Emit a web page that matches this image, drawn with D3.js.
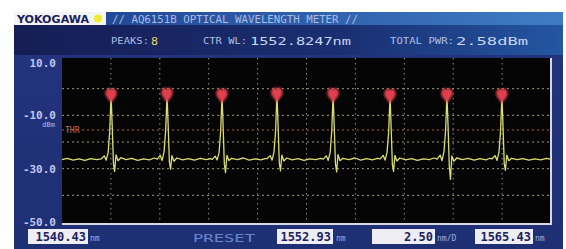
<!DOCTYPE html>
<html><head><meta charset="utf-8">
<script src="https://cdn.jsdelivr.net/npm/d3@7"></script>
<style>html,body{margin:0;padding:0;background:#fff;}svg{display:block;}</style>
</head><body>
<script>
// ---- data ----
const xDomain = [1540.43, 1565.43];
const yDomain = [10, -50];
const yTickValues = [10, -10, -30, -50];
const yTickLabels = ["10.0", "-10.0", "-30.0", "-50.0"];
const yGridValues = [0, -10, -20, -30, -40];
const xGridValues = [1542.93, 1545.43, 1547.93, 1550.43, 1552.93, 1555.43, 1557.93, 1560.43, 1562.93];
const thresholdDbm = -15.5;
const peakNm  = [1542.94, 1545.80, 1548.61, 1551.42, 1554.29, 1557.20, 1560.11, 1562.92];
const peakDbm = [-2.5, -2.3, -2.6, -2.2, -2.4, -2.7, -2.5, -2.6];
const headerTitle = "// AQ6151B OPTICAL WAVELENGTH METER //";
const peaksCount = "8";
const ctrWl = "1552.8247nm";
const totalPwr = "2.58dBm";
const bottomLabels = {start: "1540.43", center: "1552.93", span: "2.50", stop: "1565.43"};
const trace = [
 [1540.43,-26.6],[1540.7,-26.1],[1541.0,-26.8],[1541.3,-26.3],[1541.6,-26.9],[1541.9,-26.2],[1542.2,-26.6],
 [1542.44,-26.3],[1542.59,-25.2],[1542.69,-26.8],[1542.79,-23.9],[1542.87,-16],[1542.91,-8],[1542.94,-2.5],[1542.97,-8.5],[1543.01,-17],[1543.06,-28],[1543.12,-31],[1543.19,-24.8],[1543.29,-27.0],[1543.44,-25.9],
 [1543.7,-26.6],[1544.0,-26.1],[1544.3,-26.9],[1544.6,-26.3],[1544.9,-26.7],[1545.15,-26.0],
 [1545.30,-26.4],[1545.45,-25.0],[1545.55,-26.9],[1545.65,-23.6],[1545.73,-15.5],[1545.77,-8],[1545.80,-2.3],[1545.83,-8.2],[1545.87,-16.5],[1545.92,-27.5],[1545.98,-30.2],[1546.05,-25.1],[1546.15,-27.2],[1546.30,-26.0],
 [1546.6,-26.7],[1546.9,-26.2],[1547.2,-26.8],[1547.5,-26.1],[1547.8,-26.6],[1548.0,-26.2],
 [1548.11,-26.5],[1548.26,-25.3],[1548.36,-26.7],[1548.46,-24.0],[1548.54,-16.2],[1548.58,-8.4],[1548.61,-2.6],[1548.64,-8.3],[1548.68,-17.2],[1548.73,-28.3],[1548.79,-31.5],[1548.86,-25.0],[1548.96,-26.9],[1549.11,-26.1],
 [1549.4,-26.6],[1549.7,-26.0],[1550.0,-26.8],[1550.3,-26.3],[1550.6,-26.7],[1550.8,-26.2],
 [1550.92,-26.2],[1551.07,-25.1],[1551.17,-26.8],[1551.27,-23.7],[1551.35,-15.8],[1551.39,-7.9],[1551.42,-2.2],[1551.45,-8.1],[1551.49,-16.8],[1551.54,-27.8],[1551.60,-30.8],[1551.67,-24.9],[1551.77,-27.1],[1551.92,-26.0],
 [1552.2,-26.7],[1552.5,-26.2],[1552.8,-26.9],[1553.1,-26.3],[1553.4,-26.6],[1553.65,-26.1],
 [1553.79,-26.4],[1553.94,-25.2],[1554.04,-26.9],[1554.14,-23.9],[1554.22,-16.0],[1554.26,-8.2],[1554.29,-2.4],[1554.32,-8.4],[1554.36,-17.0],[1554.41,-28.1],[1554.47,-31.2],[1554.54,-24.7],[1554.64,-27.0],[1554.79,-26.1],
 [1555.1,-26.6],[1555.4,-26.0],[1555.7,-26.8],[1556.0,-26.2],[1556.3,-26.7],[1556.55,-26.1],
 [1556.70,-26.3],[1556.85,-25.0],[1556.95,-26.8],[1557.05,-23.8],[1557.13,-16.3],[1557.17,-8.6],[1557.20,-2.7],[1557.23,-8.7],[1557.27,-17.4],[1557.32,-28.4],[1557.38,-31.0],[1557.45,-25.0],[1557.55,-27.1],[1557.70,-26.0],
 [1558.0,-26.7],[1558.3,-26.2],[1558.6,-26.9],[1558.9,-26.3],[1559.2,-26.6],[1559.45,-26.0],
 [1559.61,-26.4],[1559.76,-24.9],[1559.86,-27.0],[1559.96,-23.5],[1560.04,-15.9],[1560.08,-8.1],[1560.11,-2.5],[1560.14,-8.3],[1560.18,-16.9],[1560.23,-29.0],[1560.29,-34.0],[1560.36,-25.2],[1560.46,-27.2],[1560.61,-26.0],
 [1560.9,-26.6],[1561.2,-26.1],[1561.5,-26.8],[1561.8,-26.2],[1562.1,-26.7],[1562.3,-26.1],
 [1562.42,-26.3],[1562.57,-25.1],[1562.67,-26.9],[1562.77,-23.8],[1562.85,-16.1],[1562.89,-8.3],[1562.92,-2.6],[1562.95,-8.5],[1562.99,-17.1],[1563.04,-28.2],[1563.10,-30.6],[1563.17,-24.9],[1563.27,-27.0],[1563.42,-26.1],
 [1563.7,-26.6],[1564.0,-26.2],[1564.3,-26.8],[1564.6,-26.3],[1564.9,-26.7],[1565.2,-26.1],[1565.43,-26.5]
];

// ---- drawing ----
const W = 566, H = 249;
const svg = d3.select("body").append("svg").attr("width", W).attr("height", H);
const defs = svg.append("defs");
const g1 = defs.append("linearGradient").attr("id","hdr1").attr("x1","0").attr("x2","1");
g1.append("stop").attr("offset","0").attr("stop-color","#1d3f8f");
g1.append("stop").attr("offset","1").attr("stop-color","#3f7cc4");
const g2 = defs.append("linearGradient").attr("id","hdr2").attr("x1","0").attr("x2","1");
g2.append("stop").attr("offset","0").attr("stop-color","#161d55");
g2.append("stop").attr("offset","0.6").attr("stop-color","#1a2f72");
g2.append("stop").attr("offset","1").attr("stop-color","#2456a2");
const g3 = defs.append("linearGradient").attr("id","body").attr("x1","0").attr("x2","0").attr("y1","0").attr("y2","1");
g3.append("stop").attr("offset","0").attr("stop-color","#24347e");
g3.append("stop").attr("offset","1").attr("stop-color","#1f2f74");
const blur = defs.append("filter").attr("id","glow").attr("x","-50%").attr("y","-50%").attr("width","200%").attr("height","200%");
blur.append("feGaussianBlur").attr("stdDeviation","0.8");

// panel
svg.append("rect").attr("x",14).attr("y",12).attr("width",549).attr("height",237).attr("fill","url(#body)");
svg.append("rect").attr("x",14).attr("y",12).attr("width",549).attr("height",13).attr("fill","url(#hdr1)");
svg.append("rect").attr("x",14).attr("y",25).attr("width",549).attr("height",30).attr("fill","url(#hdr2)");

// header
svg.append("rect").attr("x",14).attr("y",12).attr("width",92).attr("height",13).attr("fill","#f4f4f4");
svg.append("text").attr("x",17).attr("y",22.5).text("YOKOGAWA")
  .attr("font-family","DejaVu Sans").attr("font-weight","bold").attr("font-size",10)
  .attr("textLength",72).attr("lengthAdjust","spacingAndGlyphs").attr("fill","#1a1f5a");
svg.append("circle").attr("cx",98).attr("cy",18.5).attr("r",4).attr("fill","#f0ea30");
svg.append("text").attr("x",112).attr("y",23).text(headerTitle)
  .attr("font-family","DejaVu Sans Mono").attr("font-size",11)
  .attr("textLength",246).attr("lengthAdjust","spacingAndGlyphs").attr("fill","#a9bde6");

const small = {ff:"DejaVu Sans Mono", fill:"#aebfe4"};
function txt(x,y,s,size,len,fill,weight){
  const t = svg.append("text").attr("x",x).attr("y",y).text(s)
    .attr("font-family","DejaVu Sans Mono").attr("font-size",size).attr("fill",fill||small.fill);
  if(len) t.attr("textLength",len).attr("lengthAdjust","spacingAndGlyphs");
  if(weight) t.attr("font-weight",weight);
  return t;
}
txt(111,44,"PEAKS:",8,38);
txt(151,45,peaksCount,11,7,"#e2d85a");
txt(203,44,"CTR WL:",8,44);
txt(250,45,ctrWl,11,101,"#c9d6f0");
txt(390,44,"TOTAL PWR:",8,64);
txt(456,45,totalPwr,11,72,"#c9d6f0");

// plot area
const x = d3.scaleLinear().domain(xDomain).range([62, 551]);
const y = d3.scaleLinear().domain(yDomain).range([62, 222]);
svg.append("rect").attr("x",62).attr("y",58).attr("width",489).attr("height",166).attr("fill","#050505");

const gridG = svg.append("g");
gridG.selectAll(".vg").data(xGridValues).join("line")
  .attr("x1",d=>x(d)).attr("x2",d=>x(d)).attr("y1",58).attr("y2",224)
  .attr("stroke","#8e8e8e").attr("stroke-width",1).attr("stroke-dasharray","1.5,3.5");
gridG.selectAll(".hg").data(yGridValues).join("line")
  .attr("x1",62).attr("x2",551).attr("y1",d=>y(d)).attr("y2",d=>y(d))
  .attr("stroke","#a09c78").attr("stroke-width",1).attr("stroke-dasharray","2,3");
// threshold
gridG.append("line").attr("x1",62).attr("x2",551).attr("y1",y(thresholdDbm)).attr("y2",y(thresholdDbm))
  .attr("stroke","#b5604a").attr("stroke-width",1).attr("stroke-dasharray","2,3");
svg.append("text").attr("x",65).attr("y",y(thresholdDbm)+3).text("THR")
  .attr("font-family","DejaVu Sans Mono").attr("font-size",8).attr("fill","#c86a4a");

// frame
svg.append("line").attr("x1",62).attr("x2",552).attr("y1",224).attr("y2",224).attr("stroke","#d8d8e4").attr("stroke-width",2);
svg.append("line").attr("x1",551).attr("x2",551).attr("y1",58).attr("y2",225).attr("stroke","#d8d8e4").attr("stroke-width",2);

// trace
const line = d3.line().x(d=>x(d[0])).y(d=>y(d[1]));
svg.append("path").datum(trace).attr("d",line).attr("fill","none")
  .attr("stroke","#d9dd72").attr("stroke-width",1.3).attr("stroke-linejoin","round");

// markers
const peaks = peakNm.map((n,i)=>({n, v:peakDbm[i]}));
const mk = svg.append("g").attr("filter","url(#glow)");
mk.selectAll("path").data(peaks).join("path")
  .attr("transform",d=>`translate(${x(d.n)},${y(d.v)})`)
  .attr("d","M0,8 L-5,1 C-7,-2 -5,-7 -2,-7 C-1,-7 0,-6 0,-5 C0,-6 1,-7 2,-7 C5,-7 7,-2 5,1 Z")
  .attr("fill","#e0404e");

// y labels
const yl = svg.append("g");
yl.selectAll("text").data(yTickValues).join("text")
  .attr("x",56).attr("y",d=>Math.max(y(d),63)+4).attr("text-anchor","end")
  .text((d,i)=>yTickLabels[i])
  .attr("font-family","DejaVu Sans Mono").attr("font-weight","bold").attr("font-size",11)
  .attr("fill","#c3c6ee");
svg.append("text").attr("x",55).attr("y",y(-10)+12).attr("text-anchor","end").text("dBm")
  .attr("font-family","DejaVu Sans Mono").attr("font-size",7).attr("fill","#b8bce6");

// bottom labels
function box(x0,w,s,unit,ux){
  svg.append("rect").attr("x",x0).attr("y",229).attr("width",w).attr("height",15).attr("fill","#eeeef4");
  svg.append("text").attr("x",x0+w-2).attr("y",241).attr("text-anchor","end").text(s)
    .attr("font-family","DejaVu Sans Mono").attr("font-weight","bold").attr("font-size",12).attr("fill","#1c2260");
  svg.append("text").attr("x",ux).attr("y",241).text(unit)
    .attr("font-family","DejaVu Sans Mono").attr("font-size",8).attr("fill","#9fb0e0");
}
box(28,60,bottomLabels.start,"nm",90);
box(277,56,bottomLabels.center,"nm",336);
box(372,63,bottomLabels.span,"nm/D",437);
box(475,58,bottomLabels.stop,"nm",535);
svg.append("text").attr("x",193).attr("y",242).text("PRESET")
  .attr("font-family","DejaVu Sans Mono").attr("font-size",11).attr("textLength",62).attr("lengthAdjust","spacingAndGlyphs")
  .attr("fill","#6a88d0");
</script>
</body></html>
